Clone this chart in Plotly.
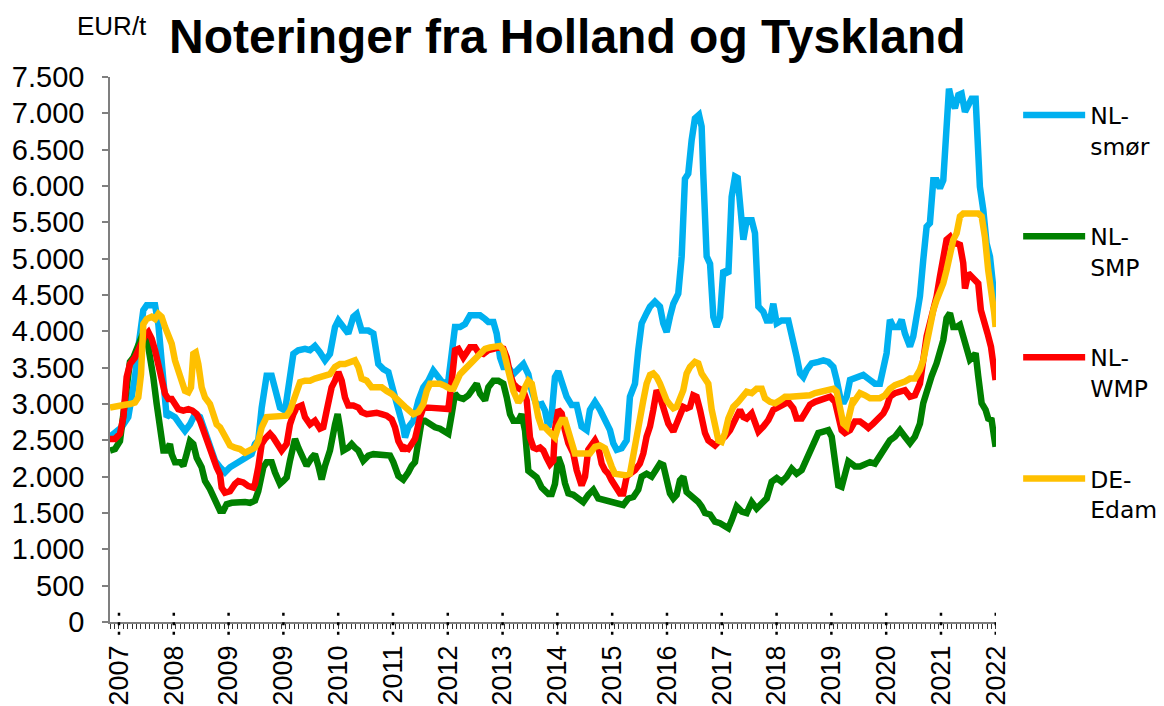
import plotly.graph_objects as go

# ---- data (x = weeks since start of series, y = EUR/t) ----
weeks_smor = [0,4.6,10.6,16.7,22.8,25.8,30.4,33.5,41.1,44.1,47.1,50.2,51.7,54.7,59.3,63.9,68.4,73.0,77.5,82.1,86.7,91.2,95.8,100.4,104.9,109.5,114.0,118.6,123.2,129.2,
    132.3,135.3,138.4,142.9,147.5,150.5,155.1,159.7,162.7,167.3,171.8,177.9,182.5,187.0,191.6,196.2,200.7,205.3,208.3,212.9,217.4,222.0,225.1,229.6,235.7,240.3,244.8,249.4,254.0,258.5,263.1,267.6,
    269.2,272.2,276.8,281.4,285.9,290.5,295.0,299.6,304.2,308.7,311.8,314.8,319.4,323.9,328.5,333.1,337.6,342.2,345.2,349.8,352.8,355.9,358.9,363.5,368.0,372.6,377.2,381.7,384.8,389.3,393.9,396.9,400.0,403.0,
    406.0,409.0,413.6,416.6,421.2,425.8,430.3,434.9,437.9,442.5,447.1,451.6,456.2,459.2,462.3,466.8,471.4,474.4,479.0,482.0,485.1,489.6,492.7,497.2,501.8,504.8,507.9,510.9,514.0,518.5,521.6,524.6,527.6,530.7,533.7,537.4,539.8,541.3,
    544.4,547.5,550.5,553.5,556.6,559.6,564.2,567.2,570.3,572.7,574.8,577.9,580.9,585.5,588.5,591.6,596.1,599.2,602.2,605.2,608.3,612.8,618.9,622.0,626.5,629.6,632.6,635.7,640.2,646.3,650.9,655.4,660.0,663.0,666.1,669.1,672.1,675.2,678.2,
    679.7,687.3,693.4,697.9,702.5,705.6,708.6,711.6,714.7,719.2,722.3,725.3,729.9,732.9,736.0,739.0,742.0,745.1,748.1,751.2,754.2,757.2,760.3,763.3,765.5,767.9,770.9,774.0,777.0,780.1,783.1,786.1,789.8,793.7,796.8,799.8,802.9,805.0,806.8,808.0]
smor = [2550,2600,2680,2820,3370,3780,4290,4360,4360,4100,3550,3090,2820,2860,2820,2720,2630,2720,2860,2820,2630,2450,2220,2130,2060,2130,2170,2200,2240,2310,
    2450,2500,2950,3390,3390,3180,2950,2910,3180,3690,3740,3760,3740,3800,3710,3600,3690,4060,4150,4060,3970,4200,4240,4010,4010,3970,3550,3480,3440,3180,2950,2680,
    2540,2680,2770,3050,3230,3320,3460,3370,3280,3320,3640,4060,4060,4100,4220,4220,4220,4170,4130,4130,3970,3640,3510,3510,3410,3480,3550,3410,3180,2980,3000,2910,2680,2860,
    3370,3450,3190,3100,2985,2985,2690,2640,2920,3030,2920,2780,2640,2460,2370,2390,2500,3100,3280,3740,4110,4250,4340,4410,4340,4110,3990,4200,4380,4520,5030,6100,6170,6630,6930,6980,6820,6170,
    5030,4930,4200,4060,4200,4840,4790,5850,6130,6110,5810,5260,5530,5530,5350,4340,4270,4150,4150,4380,4110,4150,4150,3970,3650,3420,3370,3470,3560,3580,3600,3580,3510,3330,3100,3010,3100,3330,3350,
    3350,3400,3330,3280,3280,3560,3700,4160,4060,4060,4160,3970,3790,3930,4250,4480,4980,5440,5490,6080,6080,5970,6080,7040,7340,7180,7070,7250,7270,7020,7090,7200,7200,5990,5670,5210,5030,4800,4480,4300]

weeks_smp = [0,4.6,9.1,12.2,15.2,18.2,21.3,24.3,27.4,30.4,33.5,36.5,39.5,42.6,45.6,48.7,51.7,54.7,56.3,59.3,63.9,66.9,69.9,73.0,76.0,79.1,83.6,86.7,91.2,95.8,100.4,103.4,106.4,111.0,117.1,123.2,127.7,
    132.3,135.3,139.9,142.9,147.5,150.5,155.1,158.1,161.2,164.2,168.8,171.8,176.4,179.4,184.0,187.0,190.1,193.1,196.2,200.7,205.3,207.7,209.8,212.9,217.4,220.5,223.5,226.6,231.1,235.7,240.3,244.8,250.9,255.5,258.5,263.1,267.6,
    269.2,272.2,275.3,278.3,281.4,284.4,287.4,292.0,296.6,301.1,305.7,308.7,311.8,314.8,317.9,322.4,327.0,331.5,334.6,337.6,342.2,345.2,349.8,354.3,358.9,362.0,365.0,368.0,372.6,375.6,378.7,381.7,384.8,389.3,393.9,396.9,400.0,403.0,
    406.0,409.0,412.1,415.1,418.2,422.7,427.3,431.8,436.4,441.0,445.5,450.1,454.7,459.2,463.8,468.3,472.9,477.5,482.0,485.1,489.6,494.2,497.2,501.8,504.8,507.9,510.9,514.0,517.0,520.0,523.1,526.1,529.2,533.7,536.8,539.8,
    542.9,547.5,552.0,556.6,561.1,564.2,567.2,571.8,576.4,580.9,585.5,590.0,594.6,599.2,603.7,608.3,612.8,617.4,622.0,626.5,631.1,635.7,638.7,641.7,646.3,650.9,655.4,658.5,661.5,664.5,667.6,670.6,673.7,678.2,
    679.7,684.3,688.8,693.4,697.9,702.5,707.1,711.6,716.2,720.8,725.3,729.9,734.4,739.0,742.0,745.1,749.6,754.2,757.2,760.3,763.3,766.4,769.4,772.5,775.5,778.5,781.6,784.6,787.7,789.8,792.2,795.3,798.9,801.3,804.4,806.8,808.0]
smp = [2360,2380,2490,2860,3320,3580,3640,3740,3870,3980,3920,3690,3370,3000,2720,2360,2360,2450,2310,2200,2200,2150,2310,2490,2450,2260,2130,1940,1830,1670,1530,1530,1620,1640,1650,1650,1640,
    1670,1800,2130,2200,2200,2060,1900,1940,1990,2220,2520,2400,2220,2150,2260,2310,2150,1960,2150,2360,2720,2860,2680,2360,2400,2450,2400,2360,2220,2290,2310,2310,2310,2290,2200,2010,1960,
    1990,2060,2150,2200,2490,2770,2770,2720,2680,2660,2630,2590,2860,3140,3090,3070,3120,3230,3280,3140,3050,3230,3320,3320,3280,3090,2860,2770,2770,2860,2630,2080,2030,1990,1850,1800,1760,1760,
    1900,2270,2140,1910,1770,1750,1700,1650,1750,1820,1700,1680,1650,1630,1610,1610,1700,1720,1820,2000,2040,2000,2070,2180,2160,1950,1770,1700,1750,1950,2000,1790,1750,1700,1650,1590,
    1500,1480,1380,1360,1310,1290,1400,1590,1520,1500,1650,1560,1630,1700,1930,1980,1930,2000,2110,2040,2090,2230,2340,2430,2600,2620,2640,2550,2270,1880,1860,2000,2210,2160,
    2140,2140,2180,2200,2180,2300,2410,2500,2550,2640,2550,2460,2550,2730,3010,3190,3380,3560,3700,3880,4180,4250,4060,4060,4090,3930,3700,3610,3650,3700,3380,3010,2920,2800,2780,2460,2410]

weeks_wmp = [0,4.6,9.1,12.2,15.2,18.2,22.8,25.8,28.9,31.9,35.0,38.0,41.1,44.1,47.1,50.2,53.2,56.3,59.3,62.3,66.9,71.5,75.1,79.1,82.1,85.1,88.2,91.2,94.3,97.3,100.4,101.9,104.9,109.5,114.0,117.1,121.6,126.2,130.8,
    132.3,135.3,138.4,141.4,146.0,149.0,152.1,156.6,161.2,164.2,167.3,170.3,174.9,177.9,182.5,187.0,191.6,194.6,197.7,202.2,205.3,208.3,211.4,214.4,217.4,222.0,226.6,229.6,234.2,238.7,243.3,247.9,252.4,257.0,260.0,263.1,267.6,
    269.2,272.2,275.3,278.3,282.9,285.9,290.5,295.0,299.6,304.2,308.7,311.8,314.8,317.9,322.4,325.5,328.5,333.1,336.1,340.7,345.2,349.8,354.3,358.9,362.0,365.0,368.0,371.1,374.1,377.2,380.2,383.2,386.3,389.3,392.4,395.4,398.4,401.5,404.5,
    406.0,409.0,412.1,415.1,418.2,422.7,425.8,430.3,433.4,436.4,439.5,442.5,445.5,448.6,451.6,454.7,457.7,460.7,465.3,468.3,471.4,474.4,479.0,483.5,486.6,489.6,492.7,495.7,498.8,501.8,504.8,509.4,514.0,517.0,520.0,523.1,526.1,529.2,532.2,535.2,538.3,541.3,
    542.9,545.9,549.0,552.0,556.6,561.1,565.7,570.3,574.8,577.9,580.9,585.5,588.5,591.6,596.1,600.7,605.2,609.8,614.4,618.9,623.5,626.5,631.1,634.1,638.7,643.3,647.8,652.4,657.0,661.5,664.5,667.6,670.6,675.2,
    679.7,684.3,688.8,691.9,696.4,701.0,705.6,708.6,711.6,716.2,720.8,725.3,729.9,734.4,739.0,742.0,745.1,748.1,751.2,754.2,757.2,760.3,763.3,766.4,769.4,772.5,775.5,778.5,780.1,783.1,786.1,789.2,792.2,794.6,797.7,800.7,803.8,805.9,808.0]
wmp = [2520,2520,2590,2820,3370,3550,3640,3740,3830,3940,3990,3900,3740,3550,3320,3140,3070,3070,3000,2930,2910,2930,2910,2860,2770,2630,2490,2360,2260,2130,2030,1850,1780,1800,1900,1940,1920,1870,1850,
    1900,2130,2450,2520,2590,2540,2450,2360,2450,2720,2860,2950,2980,2820,2720,2770,2660,2680,2910,3230,3320,3440,3320,3090,2980,2980,2950,2890,2860,2880,2880,2860,2840,2790,2680,2490,2360,
    2400,2380,2450,2520,2820,2950,2950,2950,2950,2930,2930,3320,3740,3760,3640,3710,3780,3780,3710,3690,3740,3760,3780,3760,3640,3410,3280,3230,3210,3180,3050,2540,2400,2380,2400,2360,2260,2170,2220,
    2650,2920,2870,2640,2460,2320,2090,1880,2000,2370,2460,2500,2410,2180,2090,2040,1950,1860,1770,1770,2000,2040,2090,2180,2320,2550,2690,2920,3190,3100,2920,2730,2620,2730,2820,2960,2940,2960,3120,3100,2920,2640,
    2600,2500,2460,2430,2500,2550,2640,2780,2920,2820,2800,2870,2730,2620,2690,2780,2920,2960,3010,3030,2940,2800,2800,2890,2990,3030,3050,3080,3100,3030,2800,2640,2600,2640,
    2760,2760,2710,2670,2730,2800,2870,2960,3100,3150,3170,3190,3100,3120,3280,3650,3930,4110,4290,4480,4750,5030,5260,5300,5210,5210,5190,4940,4590,4800,4750,4710,4660,4290,4160,3970,3790,3560,3330]

weeks_edam = [0,4.6,9.1,13.7,18.2,22.8,25.8,28.3,30.4,33.5,38.0,41.1,44.1,47.1,50.2,53.2,56.3,59.3,62.3,65.4,68.4,71.5,73.9,76.0,78.2,80.6,83.6,86.7,91.2,94.3,97.3,100.4,103.4,106.4,109.5,114.0,118.6,123.2,127.7,
    132.3,135.3,138.4,142.9,147.5,152.1,156.6,161.2,164.2,167.3,170.3,173.4,177.9,182.5,187.0,191.6,196.2,200.7,205.3,209.8,214.4,219.0,223.5,226.6,229.6,234.2,238.7,243.3,247.9,252.4,257.0,261.5,266.1,
    269.2,272.2,276.8,281.4,285.9,289.0,292.0,296.6,301.1,305.7,310.3,313.3,316.3,319.4,323.9,328.5,333.1,337.6,342.2,346.7,351.3,355.9,358.9,362.0,365.0,368.0,372.6,375.6,378.7,381.7,384.8,387.8,390.8,393.9,396.9,400.0,403.0,
    406.0,409.0,412.1,415.1,418.2,421.2,424.2,428.8,433.4,437.9,442.5,447.1,451.6,454.7,457.7,460.7,465.3,469.9,474.4,477.5,480.5,483.5,486.6,489.6,492.7,495.7,498.8,501.8,504.8,507.9,510.9,514.0,517.0,520.0,523.1,526.1,529.2,533.7,536.8,539.8,
    542.9,545.9,549.0,552.0,555.1,558.1,561.1,564.2,568.7,573.3,577.9,580.9,585.5,590.0,594.6,597.6,602.2,606.8,611.3,615.9,620.4,625.0,629.6,634.1,638.7,643.3,647.8,652.4,657.0,660.0,663.0,666.1,669.1,672.1,675.2,678.2,
    679.7,684.3,688.8,693.4,697.9,702.5,707.1,711.6,716.2,720.8,725.3,729.9,734.4,739.0,742.0,745.1,748.1,751.2,754.2,757.2,760.3,763.3,766.4,769.4,772.5,775.5,778.5,783.1,787.7,792.2,795.3,798.3,801.3,804.4,806.8,808.0]
edam = [2950,2970,2970,2990,3000,3020,3090,3410,4100,4170,4200,4170,4240,4200,4060,3920,3830,3600,3460,3320,3180,3160,3230,3690,3710,3550,3230,3090,3000,2860,2720,2680,2590,2490,2430,2400,2380,2330,2360,
    2400,2490,2680,2820,2820,2820,2820,2840,2910,3050,3180,3300,3320,3320,3350,3370,3410,3410,3510,3550,3550,3580,3600,3510,3350,3320,3230,3230,3230,3180,3140,3070,3020,
    2960,2920,2860,2890,3000,3180,3280,3280,3280,3250,3210,3210,3320,3410,3480,3550,3620,3710,3760,3780,3800,3800,3740,3550,3410,3180,3020,3090,3230,3320,3280,3000,2820,2680,2680,2630,2590,
    2540,2690,2780,2780,2600,2410,2320,2320,2320,2320,2410,2430,2390,2230,2140,2040,2020,2020,2040,2270,2550,2780,3050,3280,3400,3420,3370,3280,3150,3050,2990,2940,2960,3050,3190,3420,3510,3580,3560,3420,
    3350,3280,2920,2730,2500,2480,2600,2800,2960,3030,3100,3170,3150,3210,3210,3080,3030,3010,3050,3100,3100,3100,3100,3100,3120,3150,3170,3190,3210,3210,3170,2960,2730,2690,2920,3080,
    3050,3150,3120,3080,3080,3080,3120,3210,3260,3280,3310,3350,3350,3470,3600,3830,4110,4290,4430,4520,4660,4840,5120,5260,5350,5580,5620,5620,5620,5620,5580,5300,4840,4570,4250,4060]

year_labels = ["2007", "2008", "2009", "2009", "2010", "2011", "2012", "2013", "2014",
               "2015", "2016", "2017", "2018", "2019", "2020", "2021", "2022"]
series_names = ["NL-<br>smør", "NL-<br>SMP", "NL-<br>WMP", "DE-<br>Edam"]
series_colors = ["#00B0F0", "#008000", "#FF0000", "#FFC000"]

# label interval in weeks
LABEL_STEP = 50
FIRST_LABEL = 8.2
tick_positions = [FIRST_LABEL + LABEL_STEP * k for k in range(len(year_labels))]

FONT = "Liberation Sans, Arial, sans-serif"

fig = go.Figure()
for i, (wx, vals) in enumerate([(weeks_smor, smor), (weeks_smp, smp), (weeks_wmp, wmp), (weeks_edam, edam)]):
    fig.add_trace(go.Scatter(
        x=wx, y=vals, mode="lines", name=series_names[i],
        legendgroup=f"g{i}",
        line=dict(color=series_colors[i], width=6.5),
    ))

# dotted major tick marks at label positions
for tv in tick_positions:
    fig.add_shape(type="line", xref="x", yref="paper", x0=tv, x1=tv, y0=0.017, y1=-0.027,
                  line=dict(color="black", width=2.5, dash="3px,6.5px"), layer="above")

# the page places the figure 8px in from the top-left corner of the window
fig.update_layout(
    width=1156, height=698,
    paper_bgcolor="white", plot_bgcolor="white",
    margin=dict(l=102, r=168, t=69, b=84, autoexpand=False),
    separators=",.",
    font=dict(family=FONT, color="black", size=24),
    showlegend=True,
    legend=dict(
        x=1.025, xanchor="left", y=0.970, yanchor="top",
        font=dict(family="DejaVu Sans, Verdana, sans-serif", size=23.5, color="black"),
        itemwidth=62, valign="top", tracegroupgap=57,
        traceorder="grouped", bgcolor="rgba(0,0,0,0)",
    ),
    annotations=[
        dict(text="<b>Noteringer fra Holland og Tyskland</b>", xref="paper", yref="paper",
             x=0.516, y=1.022, xanchor="center", yanchor="bottom", showarrow=False,
             font=dict(family=FONT, size=48, color="black")),
        dict(text="EUR/t", xref="paper", yref="paper", x=0.002, y=1.1235, xanchor="center",
             yanchor="top", showarrow=False, borderpad=0,
             font=dict(family=FONT, size=26, color="black")),
    ],
)

fig.update_xaxes(
    range=[0, 808.4], showgrid=False, zeroline=False, automargin=False,
    showline=True, linecolor="#7f7f7f", linewidth=1.5,
    tickmode="array", tickvals=tick_positions, ticktext=year_labels,
    tickangle=-90, ticks="", ticklabelstandoff=11,
    tickfont=dict(family=FONT, size=27, color="black"),
    minor=dict(ticks="outside", tick0=FIRST_LABEL, dtick=4, ticklen=5, tickwidth=1, tickcolor="#333333"),
)
fig.update_yaxes(
    range=[0, 7500], dtick=500, tickformat=",d", showgrid=False, zeroline=False, automargin=False,
    showline=True, linecolor="#7f7f7f", linewidth=1.5,
    ticks="outside", ticklen=6, tickwidth=1.5, tickcolor="#7f7f7f", ticklabelstandoff=12,
    tickfont=dict(family=FONT, size=29, color="black"),
)

fig.write_html("out.html")
